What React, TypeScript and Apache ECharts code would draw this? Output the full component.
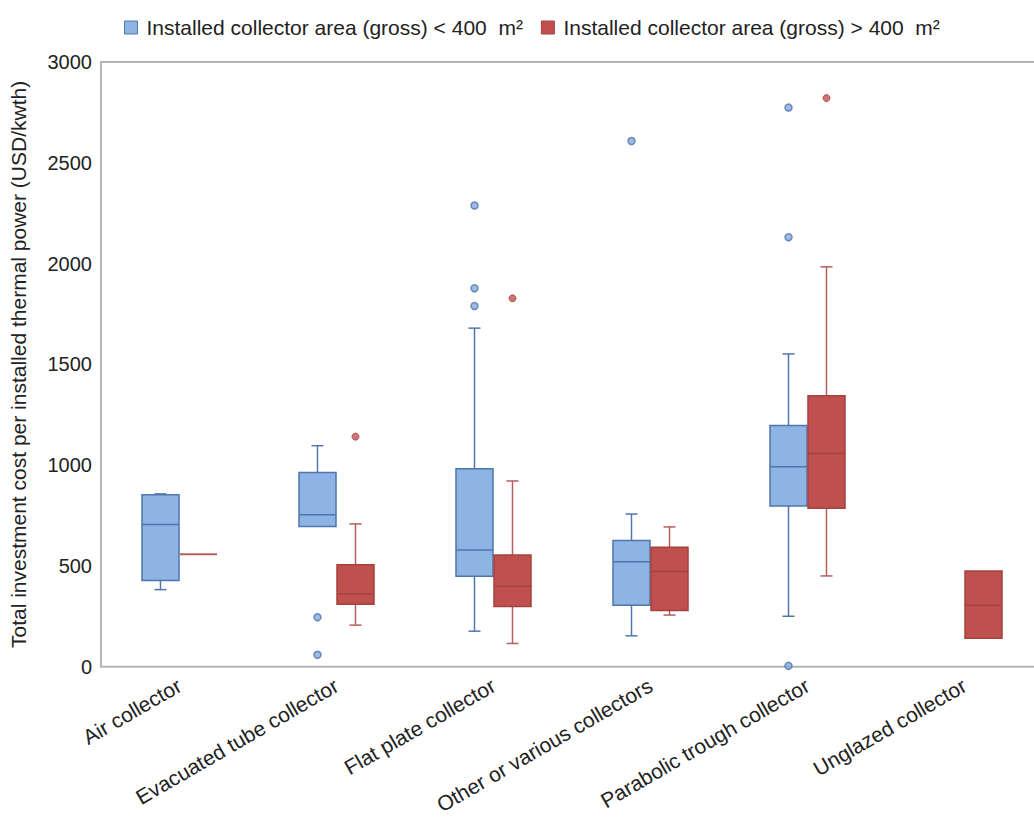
import React, { useEffect, useRef } from "react";
import * as echarts from "echarts";

const categories = [
  "Air collector",
  "Evacuated tube collector",
  "Flat plate collector",
  "Other or various collectors",
  "Parabolic trough collector",
  "Unglazed collector",
];

const seriesNames = [
  "Installed collector area (gross) < 400  m\u00B2",
  "Installed collector area (gross) > 400  m\u00B2",
];

// [min, Q1, median, Q3, max]
const smallBoxes: (number[] | null)[] = [
  [383, 428, 706, 854, 858],
  [696, 696, 754, 964, 1097],
  [177, 450, 579, 982, 1680],
  [154, 306, 521, 627, 758],
  [251, 798, 992, 1197, 1552],
  null,
];
const largeBoxes: (number[] | null)[] = [
  [559, 559, 559, 559, 559],
  [207, 311, 362, 507, 709],
  [116, 299, 400, 555, 922],
  [257, 280, 473, 593, 694],
  [451, 787, 1058, 1345, 1984],
  [142, 142, 306, 475, 475],
];
// [categoryIndex, value]
const smallOutliers = [
  [1, 246], [1, 60], [2, 2288], [2, 1878], [2, 1790], [3, 2608], [4, 2774], [4, 2131], [4, 5],
];
const largeOutliers = [[1, 1142], [2, 1828], [4, 2821]];

const yTicks = { min: 0, max: 3000, interval: 500 };

const BLUE_FILL = "#8DB4E3";
const BLUE_LINE = "#4F76AD";
const RED_FILL = "#C0504D";
const RED_LINE = "#A5423F";
const RED_WHISKER = "#B35F5C";

function toCustomData(boxes: (number[] | null)[]) {
  const out: number[][] = [];
  boxes.forEach((b, i) => {
    if (b) out.push([i, ...b]);
  });
  return out;
}

function makeRender(offset: number, fill: string, line: string, whisker: string) {
  return (params: any, api: any) => {
    const cat = api.value(0);
    const cx = api.coord([cat, 0])[0] + offset;
    const y = [1, 2, 3, 4, 5].map((i) => api.coord([cat, api.value(i)])[1]);
    const [yMin, yQ1, yMed, yQ3, yMax] = y;
    const bw = 37;
    const cw = 12;
    const children: any[] = [];
    if (yQ3 - yMax > 0.5) {
      children.push({
        type: "line",
        shape: { x1: cx, y1: yMax, x2: cx, y2: yQ3 },
        style: { stroke: whisker, lineWidth: 1.5 },
      });
      children.push({
        type: "line",
        shape: { x1: cx - cw / 2, y1: yMax, x2: cx + cw / 2, y2: yMax },
        style: { stroke: whisker, lineWidth: 1.5 },
      });
    }
    if (yMin - yQ1 > 0.5) {
      children.push({
        type: "line",
        shape: { x1: cx, y1: yQ1, x2: cx, y2: yMin },
        style: { stroke: whisker, lineWidth: 1.5 },
      });
      children.push({
        type: "line",
        shape: { x1: cx - cw / 2, y1: yMin, x2: cx + cw / 2, y2: yMin },
        style: { stroke: whisker, lineWidth: 1.5 },
      });
    }
    if (yQ1 - yQ3 > 0.5) {
      children.push({
        type: "rect",
        shape: { x: cx - bw / 2, y: yQ3, width: bw, height: yQ1 - yQ3 },
        style: { fill, stroke: line, lineWidth: 1.5 },
      });
      children.push({
        type: "line",
        shape: { x1: cx - bw / 2, y1: yMed, x2: cx + bw / 2, y2: yMed },
        style: { stroke: line, lineWidth: 1.5 },
      });
    } else {
      children.push({
        type: "line",
        shape: { x1: cx - bw / 2, y1: yMed, x2: cx + bw / 2, y2: yMed },
        style: { stroke: whisker, lineWidth: 2 },
      });
    }
    return { type: "group", children };
  };
}

export default function App() {
  const ref = useRef<HTMLDivElement>(null);
  useEffect(() => {
    if (!ref.current) return;
    const chart = echarts.init(ref.current, null, { renderer: "svg" });
    const font = "'Liberation Sans', Arial, sans-serif";
    chart.setOption({
      animation: false,
      textStyle: { fontFamily: font },
      legend: {
        left: 119,
        top: 12,
        itemWidth: 13,
        itemHeight: 13,
        itemGap: 18,
        textStyle: { fontSize: 21, color: "#222", fontFamily: font, padding: [0, 0, 0, 4] },
        data: [
          { name: seriesNames[0], icon: "rect", itemStyle: { color: BLUE_FILL, borderColor: BLUE_LINE, borderWidth: 1 } },
          { name: seriesNames[1], icon: "rect", itemStyle: { color: RED_FILL, borderColor: RED_LINE, borderWidth: 1 } },
        ],
      },
      grid: {
        left: 101,
        top: 62,
        width: 942,
        height: 606,
        show: true,
        borderColor: "#b5b5b5",
        borderWidth: 2,
        backgroundColor: "transparent",
      },
      xAxis: {
        type: "category",
        data: categories,
        boundaryGap: true,
        axisLine: { show: false },
        axisTick: { show: false },
        splitLine: { show: false },
        axisLabel: {
          rotate: 30,
          fontSize: 21,
          color: "#222",
          margin: 17,
          interval: 0,
          fontFamily: font,
        },
      },
      yAxis: {
        type: "value",
        min: yTicks.min,
        max: yTicks.max,
        interval: yTicks.interval,
        name: "Total investment cost per installed thermal power (USD/kwth)",
        nameLocation: "middle",
        nameGap: 72,
        nameTextStyle: { fontSize: 21, color: "#222", fontFamily: font },
        axisLine: { show: false },
        axisTick: { show: false },
        splitLine: { show: false },
        axisLabel: {
          fontSize: 20,
          color: "#222",
          margin: 9,
          fontFamily: font,
          formatter: (v: number) => String(v),
        },
      },
      series: [
        {
          name: seriesNames[0],
          type: "custom",
          itemStyle: { color: BLUE_FILL },
          encode: { x: 0, y: [1, 2, 3, 4, 5] },
          data: toCustomData(smallBoxes),
          renderItem: makeRender(-19, BLUE_FILL, BLUE_LINE, BLUE_LINE),
          z: 2,
        },
        {
          name: seriesNames[1],
          type: "custom",
          itemStyle: { color: RED_FILL },
          encode: { x: 0, y: [1, 2, 3, 4, 5] },
          data: toCustomData(largeBoxes),
          renderItem: makeRender(19, RED_FILL, RED_LINE, RED_WHISKER),
          z: 2,
        },
        {
          name: seriesNames[0],
          type: "scatter",
          data: smallOutliers,
          symbol: "circle",
          symbolSize: 7,
          symbolOffset: [-19, 0],
          itemStyle: { color: "#86ABDD", borderColor: BLUE_LINE, borderWidth: 1.5 },
          z: 3,
        },
        {
          name: seriesNames[1],
          type: "scatter",
          data: largeOutliers,
          symbol: "circle",
          symbolSize: 7,
          symbolOffset: [19, 0],
          itemStyle: { color: RED_FILL, borderColor: RED_LINE, borderWidth: 1 },
          z: 3,
        },
      ],
    });
    return () => chart.dispose();
  }, []);
  return (
    <div
      style={{
        position: "fixed",
        left: 0,
        top: 0,
        width: 1034,
        height: 817,
        overflow: "hidden",
        background: "#fff",
      }}
    >
      <div ref={ref} style={{ width: 1070, height: 817 }} />
    </div>
  );
}
